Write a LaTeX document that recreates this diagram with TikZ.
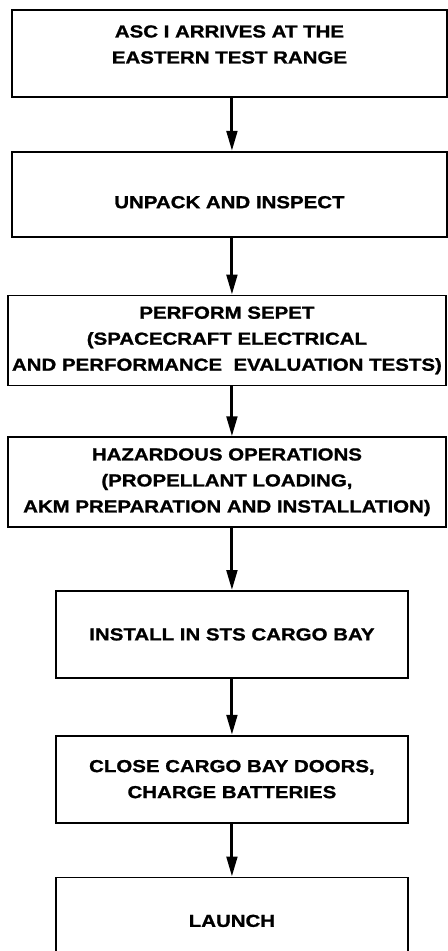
\documentclass[tikz,border=0pt]{standalone}
\usepackage{fontspec}
\setmainfont{Liberation Sans}[FakeStretch=1.18, FakeBold=1.2]
\usepackage{tikz}
\usetikzlibrary{arrows.meta, positioning}

\begin{document}
\begin{tikzpicture}[
    node distance=40pt,
    block/.style={rectangle, draw=black, line width=1.3pt, fill=white,
                  minimum width=326.25pt, minimum height=65.25pt, align=center,
                  inner sep=0pt, font=\fontsize{13}{19.5}\selectfont\bfseries},
    wide/.style={block, minimum width=328.5pt, minimum height=67.5pt},
    narrow/.style={block, minimum width=264pt},
    txt/.style={align=center, inner sep=0pt, font=\fontsize{13}{19.5}\selectfont\bfseries},
    arr/.style={-{Triangle[length=15pt, width=8pt]}, line width=2.2pt, black},
]
    \useasboundingbox (0,0) rectangle (336pt,-713.25pt);
    \clip (0,0) rectangle (336pt,-713.25pt);

    \node[block] (arrive) at (172.1pt,-40.1pt) {};
    \node[txt] (arrivetxt) at ([yshift=6.75pt]arrive.center) {ASC I ARRIVES AT THE\\EASTERN TEST RANGE};
    \node[block, minimum height=63.75pt, below=39.75pt of arrive] (unpack) {};
    \node[txt] (unpacktxt) at ([yshift=-6pt]unpack.center) {UNPACK AND INSPECT};
    \node[wide, below=42.75pt of unpack, xshift=-1.9pt] (sepet) {PERFORM SEPET\\(SPACECRAFT ELECTRICAL\\AND PERFORMANCE\ \ EVALUATION TESTS)};
    \node[wide, below=37.5pt of sepet] (hazard) {HAZARDOUS OPERATIONS\\(PROPELLANT LOADING,\\AKM PREPARATION AND INSTALLATION)};
    \node[narrow, below=46.5pt of hazard, xshift=3.75pt] (install) {INSTALL IN STS CARGO BAY};
    \node[narrow, below=42pt of install] (close) {CLOSE CARGO BAY DOORS,\\CHARGE BATTERIES};
    \node[narrow, below=39.75pt of close] (launch) {LAUNCH};

    % all arrows run straight down the common axis
    \draw[arr] (arrive.south -| launch) -- (unpack.north -| launch);
    \draw[arr] (unpack.south -| launch) -- (sepet.north -| launch);
    \draw[arr] (sepet.south -| launch) -- (hazard.north -| launch);
    \draw[arr] (hazard.south -| launch) -- (install.north);
    \draw[arr] (install.south) -- (close.north);
    \draw[arr] (close.south) -- (launch.north);
\end{tikzpicture}
\end{document}
